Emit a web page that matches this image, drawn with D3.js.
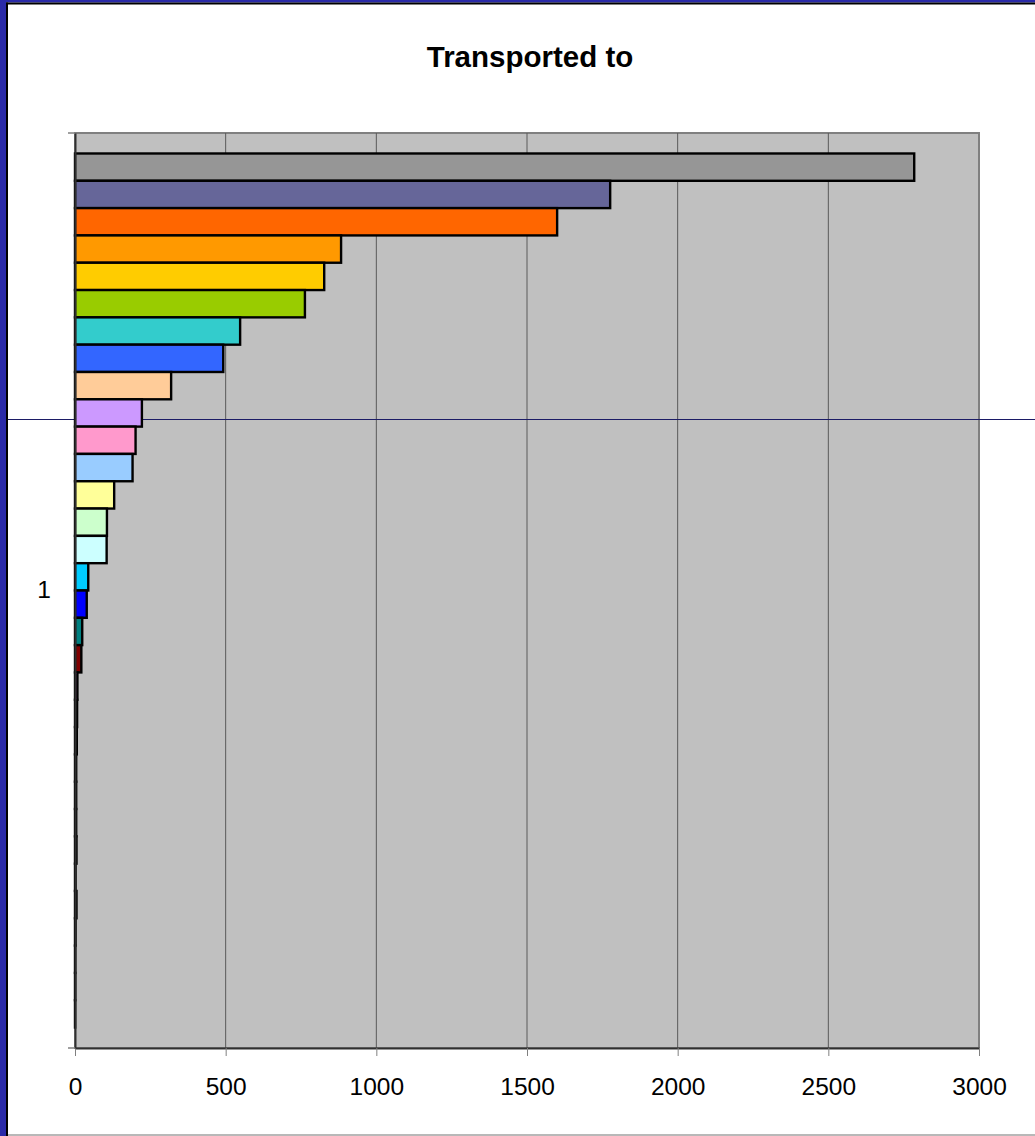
<html>
<script src='https://d3js.org/d3.v7.min.js'></script>
<style>
  body { margin: 0; background: white; }
  text { font-family: Arial, 'Liberation Sans', sans-serif; }
</style>
<body>
<svg id="chart" width="1035" height="1136"></svg>
<script>
// values per series, listed top bar first (one category "1")
var seriesValues = [2785, 1776, 1600, 883, 827, 763, 548, 492, 319, 222, 201, 191, 130, 106, 105, 44,
                    39, 24, 21, 8, 7, 6, 4, 4, 4, 5, 2, 5, 2, 1, 1, 0.5];
var seriesColors = ['#969696', '#666699', '#FF6600', '#FF9900', '#FFCC00', '#99CC00', '#33CCCC', '#3366FF',
                    '#FFCC99', '#CC99FF', '#FF99CC', '#99CCFF', '#FFFF99', '#CCFFCC', '#CCFFFF', '#00CCFF',
                    '#0000FF', '#008080', '#800000', '#800080', '#00FFFF', '#FFFF00', '#FF00FF', '#000080',
                    '#CCCCFF', '#0066CC', '#FF8080', '#660066', '#CCFFFF', '#FFFFCC', '#993366', '#9999FF'];
var xTicks = [0, 500, 1000, 1500, 2000, 2500, 3000];
var category = '1';
var title = 'Transported to';

var svg = d3.select('#chart');
var W = 1035, H = 1136;
var plot = {left: 75, right: 979, top: 133, bottom: 1048};
var font = "Arial, 'Liberation Sans', sans-serif";

// frame of the slide
svg.append('rect').attr('x', 0).attr('y', 0).attr('width', W).attr('height', H).attr('fill', 'white');
svg.append('rect').attr('x', 0).attr('y', 0).attr('width', W).attr('height', 2.5).attr('fill', '#2a2aa8');
svg.append('rect').attr('x', 0).attr('y', 2.5).attr('width', W).attr('height', 2).attr('fill', '#000');
svg.append('rect').attr('x', 0).attr('y', 0).attr('width', 6).attr('height', H).attr('fill', '#2a2aa8');
svg.append('rect').attr('x', 6).attr('y', 2.5).attr('width', 2).attr('height', H).attr('fill', '#000');
svg.append('line').attr('x1', 8).attr('x2', W).attr('y1', 1135).attr('y2', 1135)
  .attr('stroke', '#a0a0a0').attr('stroke-width', 1.5);

var x = d3.scaleLinear().domain([0, 3000]).range([plot.left, plot.right]);
var y = d3.scaleBand().domain(d3.range(seriesValues.length))
  .range([plot.top, plot.bottom]).paddingInner(0).paddingOuter(0.75);
var yCat = d3.scaleBand().domain([category]).range([plot.top, plot.bottom]);

// plot area
svg.append('rect').attr('x', plot.left).attr('y', plot.top)
  .attr('width', plot.right - plot.left).attr('height', plot.bottom - plot.top)
  .attr('fill', '#c0c0c0').attr('stroke', '#808080').attr('stroke-width', 2);

// gridlines
svg.append('g').selectAll('line').data(xTicks.slice(1, -1)).enter().append('line')
  .attr('x1', function(d) { return x(d); }).attr('x2', function(d) { return x(d); })
  .attr('y1', plot.top).attr('y2', plot.bottom)
  .attr('stroke', '#5a5a5a').attr('stroke-width', 1);

// stray slide guide line
svg.append('line').attr('x1', 8).attr('x2', W).attr('y1', 419.5).attr('y2', 419.5)
  .attr('stroke', '#1c1c66').attr('stroke-width', 1.2);

// bars
svg.append('g').selectAll('rect').data(seriesValues).enter().append('rect')
  .attr('x', x(0))
  .attr('y', function(d, i) { return y(i); })
  .attr('width', function(d) { return x(d) - x(0); })
  .attr('height', y.bandwidth())
  .attr('fill', function(d, i) { return seriesColors[i]; })
  .attr('stroke', '#000').attr('stroke-width', 2.4);

// x axis
var xAxis = svg.append('g').attr('transform', 'translate(0,' + plot.bottom + ')')
  .call(d3.axisBottom(x).tickValues(xTicks).tickFormat(d3.format('d'))
    .tickSize(8).tickPadding(22).tickSizeOuter(0));
xAxis.attr('font-family', font);
xAxis.select('.domain').attr('stroke', '#303030').attr('stroke-width', 2);
xAxis.selectAll('.tick line').attr('stroke', '#808080');
xAxis.selectAll('.tick text').attr('font-size', 24.5).attr('fill', '#000');

// y axis (single category)
var yAxis = svg.append('g').attr('transform', 'translate(' + plot.left + ',0)')
  .call(d3.axisLeft(yCat).tickSize(0).tickPadding(24));
yAxis.attr('font-family', font);
yAxis.select('.domain').attr('stroke', '#303030').attr('stroke-width', 2);
yAxis.selectAll('.tick text').attr('font-size', 24.5).attr('fill', '#000');
svg.append('g').selectAll('line').data([plot.top, plot.bottom]).enter().append('line')
  .attr('x1', plot.left - 7).attr('x2', plot.left)
  .attr('y1', function(d) { return d; }).attr('y2', function(d) { return d; })
  .attr('stroke', '#808080').attr('stroke-width', 1.5);

// title
svg.append('text').attr('x', 530).attr('y', 67).attr('text-anchor', 'middle')
  .attr('font-family', font).attr('font-size', 29.5).attr('font-weight', 'bold').text(title);
</script>
</body>
</html>
